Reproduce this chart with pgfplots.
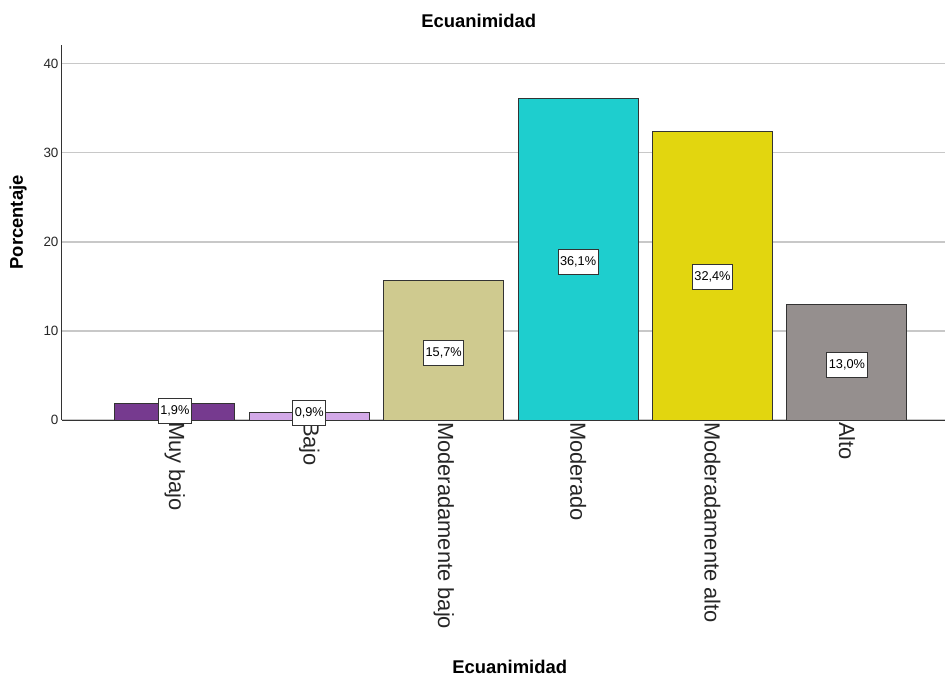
\documentclass[border=0pt]{standalone}
\usepackage{pgfplots}
\pgfplotsset{compat=1.18}
\usepackage{fontspec}
\setmainfont{Liberation Sans}
\definecolor{c1}{HTML}{763A8F}
\definecolor{c2}{HTML}{D3A9E8}
\definecolor{c3}{HTML}{CFCA8F}
\definecolor{c4}{HTML}{1ECECE}
\definecolor{c5}{HTML}{E2D60F}
\definecolor{c6}{HTML}{958F8E}
\definecolor{gridc}{HTML}{C8C8C8}
\begin{document}
\begin{tikzpicture}
\useasboundingbox (-62bp,-257bp) rectangle (885bp,420bp);
\begin{axis}[
  scale only axis, width=883bp, height=375bp,
  xmin=-0.84, xmax=5.73, ymin=0, ymax=42.1,
  axis x line*=bottom, axis y line*=left,
  axis line style={draw=black!80, line width=1bp, -},
  xtick={0,1,2,3,4,5},
  xticklabels={Muy bajo,Bajo,Moderadamente bajo,Moderado,Moderadamente alto,Alto},
  xticklabel style={rotate=-90, anchor=west, xshift=-1.5bp, font=\fontsize{22}{26}\selectfont, text=black!85},
  ytick={0,10,20,30,40},
  yticklabel style={font=\fontsize{13.5}{16}\selectfont, text=black!85},
  /pgf/number format/assume math mode=true,
  major tick length=0pt,
  ymajorgrids, grid style={draw=gridc, line width=1.4bp},
  title={\textbf{Ecuanimidad}},
  title style={at={(axis description cs:0.472,1.048)}, anchor=center, font=\fontsize{18.5}{22}\selectfont},
  xlabel={\textbf{Ecuanimidad}},
  xlabel style={at={(axis description cs:0.507,-0.659)}, anchor=center, font=\fontsize{18.5}{22}\selectfont},
  ylabel={\textbf{Porcentaje}},
  ylabel style={at={(axis description cs:-0.0498,0.527)}, anchor=center, font=\fontsize{18.5}{22}\selectfont},
  clip=false,
]
\addplot[ybar, bar shift=0pt, bar width=0.893, fill=c1, draw=black!80, line width=0.9bp] coordinates {(0,1.9)};
\addplot[ybar, bar shift=0pt, bar width=0.893, fill=c2, draw=black!80, line width=0.9bp] coordinates {(1,0.9)};
\addplot[ybar, bar shift=0pt, bar width=0.893, fill=c3, draw=black!80, line width=0.9bp] coordinates {(2,15.7)};
\addplot[ybar, bar shift=0pt, bar width=0.893, fill=c4, draw=black!80, line width=0.9bp] coordinates {(3,36.1)};
\addplot[ybar, bar shift=0pt, bar width=0.893, fill=c5, draw=black!80, line width=0.9bp] coordinates {(4,32.4)};
\addplot[ybar, bar shift=0pt, bar width=0.893, fill=c6, draw=black!80, line width=0.9bp] coordinates {(5,13.0)};
\addplot[draw=none, no markers, nodes near coords, point meta=explicit symbolic,
  nodes near coords style={anchor=center, draw=black!80, fill=white, line width=0.8bp,
    font=\fontsize{12.8}{14}\selectfont, inner xsep=2bp, inner ysep=0pt, minimum height=25bp}]
  table[meta=label] {
x y label
0 1.0 1,9\%
1 0.8 0,9\%
2 7.5 15,7\%
3 17.75 36,1\%
4 16.1 32,4\%
5 6.2 13,0\%
};
\end{axis}
\end{tikzpicture}
\end{document}
